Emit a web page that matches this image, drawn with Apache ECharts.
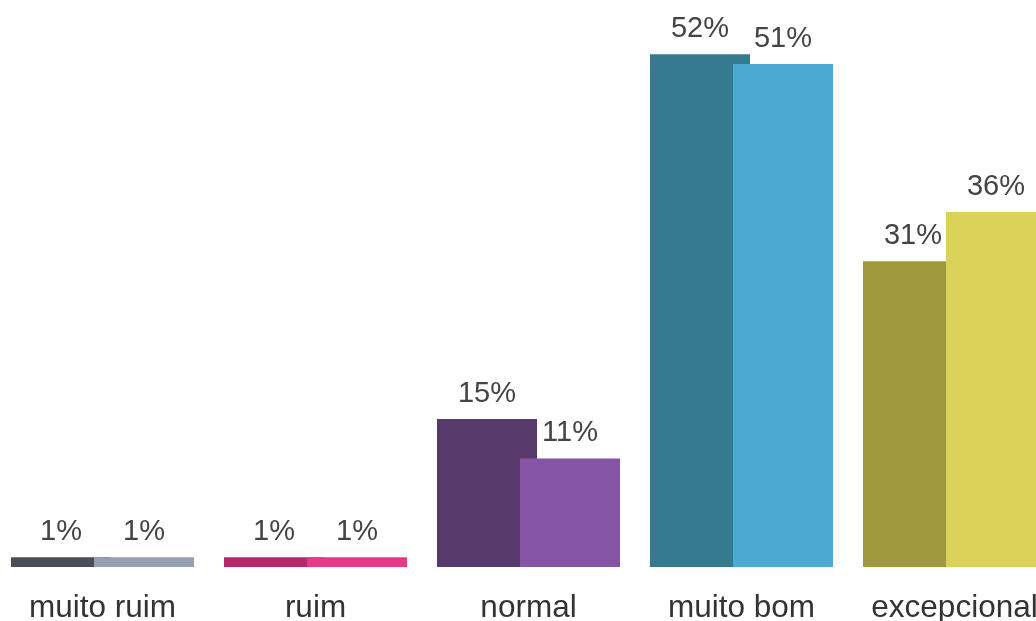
<!DOCTYPE html>
<html>
<head>
<meta charset="utf-8">
<script src="https://cdn.jsdelivr.net/npm/echarts@6/dist/echarts.min.js"></script>
<style>
html,body{margin:0;padding:0;background:#fff;overflow:hidden;width:1036px;height:621px;}
#chart{position:absolute;left:-4px;top:0;width:1065px;height:621px;}
</style>
</head>
<body>
<div id="chart"></div>
<script>
const categories = ['muito ruim', 'ruim', 'normal', 'muito bom', 'excepcional'];
const seriesA = [1, 1, 15, 52, 31];
const seriesB = [1, 1, 11, 51, 36];
const colorsA = ['#4a4e59', '#b9276b', '#58396b', '#367a90', '#a0983c'];
const colorsB = ['#97a0b1', '#e9378a', '#8554a4', '#4aaad2', '#d9d158'];

const chart = echarts.init(document.getElementById('chart'));
const labelStyle = {
  show: true,
  position: 'top',
  distance: 11,
  formatter: '{c}%',
  fontFamily: 'Liberation Sans, Arial, sans-serif',
  fontSize: 29,
  color: '#444444'
};
chart.setOption({
  animation: false,
  backgroundColor: '#ffffff',
  grid: { left: 0, right: 0, top: 0, height: 567, containLabel: false, outerBoundsMode: 'none' },
  xAxis: {
    type: 'category',
    data: categories,
    axisLine: { show: false },
    axisTick: { show: false },
    axisLabel: {
      margin: 25,
      fontFamily: 'Liberation Sans, Arial, sans-serif',
      fontSize: 31.5,
      color: '#333333',
      interval: 0
    }
  },
  yAxis: {
    type: 'value',
    min: 0,
    max: 57.5,
    show: false,
    splitLine: { show: false }
  },
  series: [
    {
      type: 'bar',
      barWidth: 100,
      barGap: '-17%',
      data: seriesA.map((v, i) => ({ value: v, itemStyle: { color: colorsA[i] } })),
      label: labelStyle
    },
    {
      type: 'bar',
      barWidth: 100,
      barGap: '-17%',
      data: seriesB.map((v, i) => ({ value: v, itemStyle: { color: colorsB[i] } })),
      label: labelStyle
    }
  ]
});
</script>
</body>
</html>
